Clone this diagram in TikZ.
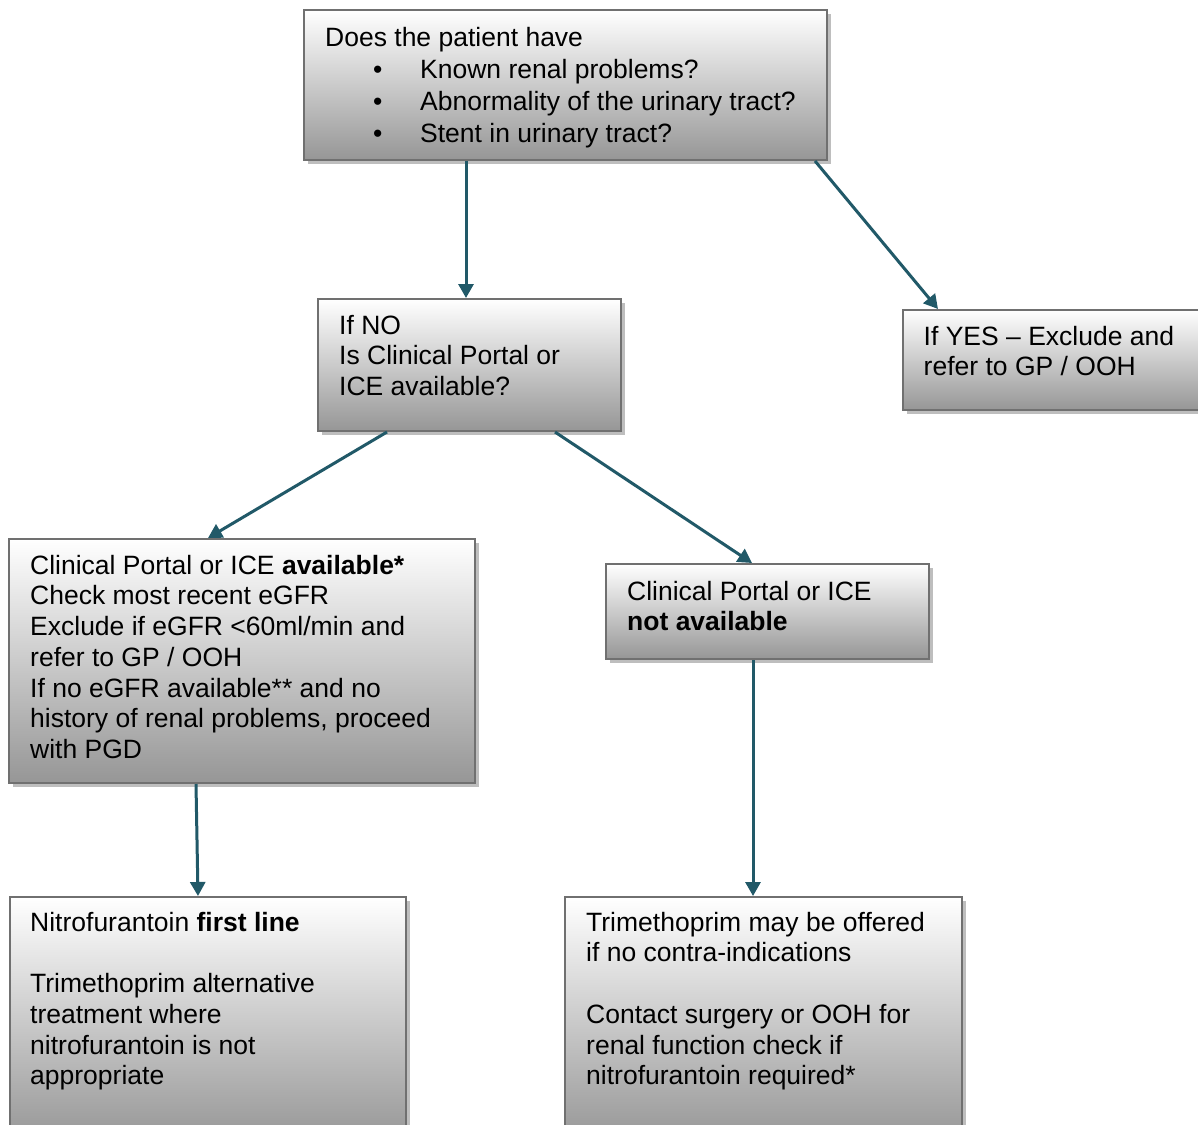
\documentclass[tikz,border=0pt]{standalone}
\usepackage{fontspec}
\setmainfont{Liberation Sans}
\usetikzlibrary{arrows.meta,shadows}
\newcommand{\mystrut}{\rule{0pt}{22pt}}
\newcommand{\bul}{\hspace*{48pt}\makebox[47pt][l]{•}}
\definecolor{arrowc}{RGB}{33,89,104}
\definecolor{borderc}{RGB}{112,112,112}
\definecolor{shadec}{RGB}{150,150,150}
\definecolor{shadowc}{RGB}{190,190,190}
\tikzset{
  box/.style={rectangle, draw=borderc, line width=2pt, top color=white, bottom color=shadec,
    anchor=north west, inner sep=0pt,
    drop shadow={shadow xshift=4pt, shadow yshift=-4pt, fill=shadowc, opacity=1}},
  txt/.style={anchor=north west, inner sep=0pt, align=left, text=black},
  conn/.style={draw=arrowc, line width=3pt, -{Triangle[width=15pt,length=14pt]}}
}
\begin{document}
\begin{tikzpicture}[x=1pt,y=-1pt]
\clip (0,0) rectangle (1198,1124);
\fill[white] (0,0) rectangle (1198,1124);
% boxes
\node[box, minimum width=523pt, minimum height=150pt] (q1) at (303,9) {};
\node[box, minimum width=303pt, minimum height=132pt] (no) at (317,298) {};
\node[box, minimum width=320pt, minimum height=100pt] (yes) at (902,309) {};
\node[box, minimum width=466pt, minimum height=244pt] (avail) at (8,538) {};
\node[box, minimum width=323pt, minimum height=95pt] (notav) at (605,563) {};
\node[box, minimum width=396pt, minimum height=245pt] (nitro) at (9,896) {};
\node[box, minimum width=397pt, minimum height=245pt] (trim) at (564,896) {};
% texts
\node[txt, font={\fontsize{26.5}{32}\selectfont}] (tq1) at (325,24)
  {\mystrut Does the patient have\\
   \bul Known renal problems?\\
   \bul Abnormality of the urinary tract?\\
   \bul Stent in urinary tract?};
\node[txt, font={\fontsize{26.5}{30.7}\selectfont}] (tno) at (339,312)
  {\mystrut If NO\\Is Clinical Portal or\\ICE available?};
\node[txt, font={\fontsize{26.5}{30.5}\selectfont}] (tyes) at (923.5,323)
  {\mystrut If YES – Exclude and\\refer to GP / OOH};
\node[txt, font={\fontsize{26.5}{30.7}\selectfont}] (tavail) at (30,552)
  {\mystrut Clinical Portal or ICE \textbf{available*}\\
   Check most recent eGFR\\
   Exclude if eGFR <60ml/min and\\
   refer to GP / OOH\\
   If no eGFR available** and no\\
   history of renal problems, proceed\\
   with PGD};
\node[txt, font={\fontsize{26.5}{30.5}\selectfont}] (tnot) at (627,578)
  {\mystrut Clinical Portal or ICE\\\textbf{not available}};
\node[txt, font={\fontsize{26.5}{30.7}\selectfont}] (tnitro) at (30,909)
  {\mystrut Nitrofurantoin \textbf{first line}\\[30.7pt]
   Trimethoprim alternative\\
   treatment where\\
   nitrofurantoin is not\\
   appropriate};
\node[txt, font={\fontsize{26.5}{30.7}\selectfont}] (ttrim) at (586,909)
  {\mystrut Trimethoprim may be offered\\
   if no contra-indications\\[30.7pt]
   Contact surgery or OOH for\\
   renal function check if\\
   nitrofurantoin required*};
% connectors
\draw[conn] (466,0 |- q1.south) -- (466,0 |- no.north);
\draw[conn] (815,0 |- q1.south) -- (938,0 |- yes.north);
\draw[conn] (387,0 |- no.south) -- (208,0 |- avail.north);
\draw[conn] (555,0 |- no.south) -- (752,0 |- notav.north);
\draw[conn] (196,0 |- avail.south) -- (198,0 |- nitro.north);
\draw[conn] (753,0 |- notav.south) -- (753,0 |- trim.north);
\end{tikzpicture}
\end{document}
